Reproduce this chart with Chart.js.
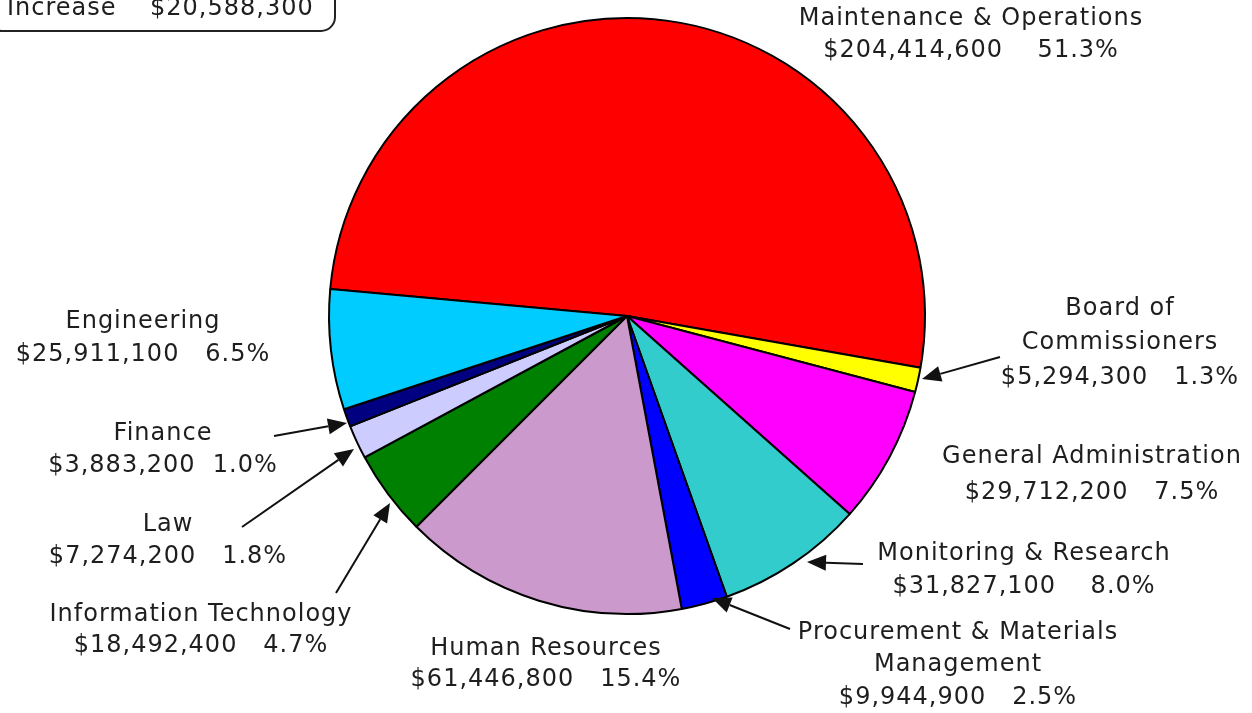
<!DOCTYPE html>
<html>
<head>
<meta charset="utf-8">
<script src="https://cdn.jsdelivr.net/npm/chart.js@4/dist/chart.umd.min.js"></script>
<style>
  body { margin: 0; background: #fff; }
  canvas { display: block; }
</style>
</head>
<body>
<canvas id="budgetChart" width="1252" height="713"></canvas>
<script>
'use strict';

// slices go clockwise starting with the big red one
let departments = ['Maintenance & Operations', 'Board of Commissioners', 'General Administration',
  'Monitoring & Research', 'Procurement & Materials Management', 'Human Resources',
  'Information Technology', 'Law', 'Finance', 'Engineering'];
let nameLines = [
  ['Maintenance & Operations'],
  ['Board of', 'Commissioners'],
  ['General Administration'],
  ['Monitoring & Research'],
  ['Procurement & Materials', 'Management'],
  ['Human Resources'],
  ['Information Technology'],
  ['Law'],
  ['Finance'],
  ['Engineering']
];
let amounts = [204414600, 5294300, 29712200, 31827100, 9944900, 61446800, 18492400, 7274200, 3883200, 25911100];
let percents = ['51.3%', '1.3%', '7.5%', '8.0%', '2.5%', '15.4%', '4.7%', '1.8%', '1.0%', '6.5%'];
let increaseLabel = 'Increase';
let increaseAmount = 20588300;

let sliceColors = ['#ff0000', '#ffff00', '#ff00ff', '#33cccc', '#0000ff',
  '#cc99cc', '#008000', '#ccccff', '#000080', '#00ccff'];

function money(v) {
  return '$' + v.toLocaleString('en-US');
}

// label placement: centre x and y of every text line, gap between amount and percent
let labelSpots = [
  { x: 971, y: [19, 51], gap: '    ' },
  { x: 1120, y: [309, 343, 378], gap: '   ' },
  { x: 1092, y: [457, 493], gap: '   ' },
  { x: 1024, y: [554, 587], gap: '    ' },
  { x: 958, y: [633, 665, 698], gap: '   ' },
  { x: 546, y: [649, 680], gap: '   ' },
  { x: 201, y: [615, 646], gap: '   ' },
  { x: 168, y: [525, 557], gap: '   ' },
  { x: 163, y: [434, 466], gap: '  ' },
  { x: 143, y: [322, 355], gap: '   ' }
];

let arrows = [
  { from: [1000, 357], to: [922, 379] },
  { from: [863, 564], to: [807, 562] },
  { from: [790, 629], to: [712, 598] },
  { from: [336, 593], to: [390, 503] },
  { from: [242, 527], to: [354, 449] },
  { from: [274, 436], to: [347, 423] }
];

const labelPlugin = {
  id: 'budgetLabels',
  afterDraw(chart) {
    const ctx = chart.ctx;
    ctx.save();
    ctx.fillStyle = '#1e1e1e';
    ctx.font = '24px "DejaVu Sans", Verdana, sans-serif';
    ctx.letterSpacing = '1px';
    ctx.textAlign = 'center';
    ctx.textBaseline = 'middle';
    for (let i = 0; i < departments.length; i++) {
      let spot = labelSpots[i];
      let lines = nameLines[i].concat([money(amounts[i]) + spot.gap + percents[i]]);
      for (let j = 0; j < lines.length; j++) {
        ctx.fillText(lines[j], spot.x, spot.y[j]);
      }
    }

    // arrows pointing at the thin slices
    ctx.strokeStyle = '#111';
    ctx.fillStyle = '#111';
    ctx.lineWidth = 2;
    arrows.forEach(function (a) {
      let dx = a.to[0] - a.from[0];
      let dy = a.to[1] - a.from[1];
      let len = Math.sqrt(dx * dx + dy * dy);
      let ux = dx / len;
      let uy = dy / len;
      let head = 19;
      let half = 8;
      let bx = a.to[0] - ux * head;
      let by = a.to[1] - uy * head;
      ctx.beginPath();
      ctx.moveTo(a.from[0], a.from[1]);
      ctx.lineTo(bx, by);
      ctx.stroke();
      ctx.beginPath();
      ctx.moveTo(a.to[0], a.to[1]);
      ctx.lineTo(bx - uy * half, by + ux * half);
      ctx.lineTo(bx + uy * half, by - ux * half);
      ctx.closePath();
      ctx.fill();
    });

    // the clipped box in the top left corner
    ctx.strokeStyle = '#222';
    ctx.lineWidth = 2;
    ctx.beginPath();
    ctx.roundRect(-12, -30, 347, 61, 14);
    ctx.stroke();
    ctx.fillStyle = '#1e1e1e';
    ctx.textAlign = 'left';
    ctx.textBaseline = 'alphabetic';
    ctx.fillText(increaseLabel, 7, 15);
    ctx.fillText(money(increaseAmount), 150, 15);
    ctx.restore();
  }
};

let chartCanvas = document.getElementById('budgetChart').getContext('2d');
const budgetChart = new Chart(chartCanvas, {
  type: 'pie',
  data: {
    labels: departments,
    datasets: [{
      data: amounts,
      backgroundColor: sliceColors,
      borderColor: '#000',
      borderWidth: 2
    }]
  },
  options: {
    responsive: false,
    animation: false,
    rotation: 275.2,
    radius: 298,
    layout: {
      padding: { left: 327, right: 325, top: 16, bottom: 97 }
    },
    plugins: {
      legend: { display: false },
      tooltip: { enabled: false }
    }
  },
  plugins: [labelPlugin]
});
</script>
</body>
</html>
